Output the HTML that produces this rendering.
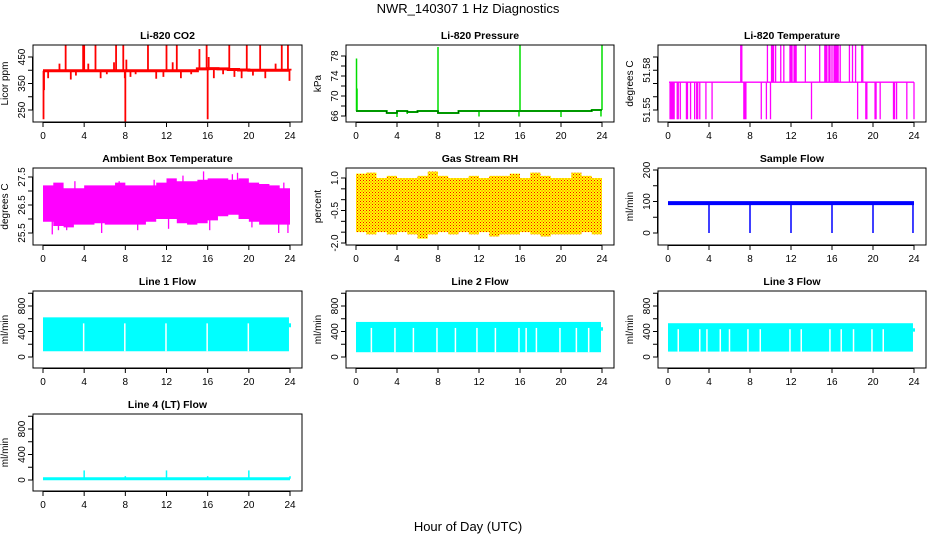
<!DOCTYPE html>
<html><head><meta charset="utf-8">
<style>
html,body{margin:0;padding:0;background:#fff;}
svg{display:block;font-family:"Liberation Sans",sans-serif;}
</style></head>
<body>
<svg id="fig" width="936" height="540" viewBox="0 0 936 540" xmlns="http://www.w3.org/2000/svg">
<defs>
<pattern id="rhpat" width="3" height="3" patternUnits="userSpaceOnUse">
<rect width="3" height="3" fill="#ffff00"/>
<rect x="0" y="0" width="1" height="1" fill="#ff0000"/>
<rect x="1.5" y="1.5" width="1" height="1" fill="#ff3000"/>
</pattern>
</defs>
<text x="468" y="13" text-anchor="middle" font-size="13">NWR_140307  1 Hz Diagnostics</text>
<text x="468" y="531" text-anchor="middle" font-size="13">Hour of Day (UTC)</text>
</svg>
<script>
// ---------------- data ----------------
const xTicks = [0,4,8,12,16,20,24];

const co2Base = [398,398,398,398,398,398,398,398,398,398,398,398,398,398,398,405,406,405,403,401,400,400,400,400,399];
const co2SpikeT = [0.05,0.1,0.5,1.6,2.2,2.7,3.2,3.9,4.0,4.4,5.1,5.6,6.2,6.9,7.1,7.8,7.95,8.0,8.1,8.5,9.0,10.2,11.0,11.7,12.0,12.6,13.0,13.4,14.4,15.2,15.9,16.0,16.1,16.6,17.5,18.1,18.6,19.3,19.8,20.4,21.1,21.6,22.6,23.2,23.8,23.95];
const co2SpikeV = [215,325,370,425,495,365,380,495,495,425,495,370,385,430,495,495,370,205,440,375,385,495,368,375,495,430,495,370,385,480,495,215,450,370,385,495,375,370,495,380,495,370,425,495,495,360];

const presBase = [67,67,67,66.6,67,66.8,67,67,66.6,66.6,67,67,67,67,67,67,67,67,67,67,67,67,67,67.2,67.2];
const presSpikeT = [0.05,0.1,4.0,5.0,8.0,12.0,16.0,15.9,20.0,23.9,24.0];
const presSpikeV = [77.5,71.5,65.8,66.4,79.8,65.9,80.2,65.9,65.8,65.9,80.2];

const tempBase = 51.571;
const tempUpT = [7.1,7.2,9.7,10.1,10.2,10.3,10.5,11.0,11.3,11.9,12.0,12.1,12.3,12.4,12.5,13.4,14.8,15.3,15.4,15.5,15.7,15.8,16.0,16.2,16.3,16.4,16.5,16.6,16.8,17.7,18.0,18.3,18.9,19.0];
const tempDownT = [0.2,0.3,0.4,0.5,0.6,0.9,1.0,1.2,1.8,1.9,2.2,2.6,2.8,2.9,3.1,3.7,4.3,7.4,7.5,7.6,9.1,9.6,10.0,14.0,18.5,19.3,19.4,20.2,20.3,20.7,22.0,22.1,22.3,23.3,24.0];
const tempHigh = 51.599, tempLow = 51.543;

const ambHi = [27.2,27.3,27.1,27.1,27.2,27.2,27.2,27.3,27.2,27.2,27.2,27.3,27.45,27.35,27.35,27.4,27.45,27.45,27.4,27.45,27.3,27.25,27.2,27.1,27.0];
const ambLo = [25.9,25.75,25.7,25.8,25.8,25.85,25.8,25.8,25.8,25.8,25.9,26.0,26.0,25.85,25.8,25.85,25.95,26.1,26.15,26.0,25.9,25.8,25.8,25.8,25.75];
const ambSpikeT = [0.9,1.5,2.3,3.1,5.7,7.4,9.2,10.8,12.2,13.6,15.6,16.2,18.4,18.9,20.3,22.9,23.4,23.8];
const ambSpikeV = [25.45,25.6,25.6,27.35,25.5,27.35,25.6,27.4,25.65,27.55,27.7,25.6,27.6,27.65,25.7,25.5,27.3,25.5];

const rhHi = [1.2,1.25,1.0,1.1,1.0,1.0,1.1,1.3,1.1,1.0,1.0,1.1,1.0,1.1,1.1,1.2,1.0,1.25,1.1,1.0,1.0,1.25,1.1,1.0,0.9];
const rhLo = [-1.5,-1.6,-1.5,-1.6,-1.5,-1.6,-1.8,-1.6,-1.5,-1.6,-1.5,-1.6,-1.5,-1.7,-1.6,-1.6,-1.5,-1.6,-1.7,-1.6,-1.6,-1.6,-1.5,-1.6,-1.2];

const flowBase = 95;
const flowDipT = [4.0,8.0,12.0,16.0,20.0,23.9];
const flowDipV = [0,0,0,0,0,0];

const l1Hi = 622, l1Lo = 90, l1Gaps = [3.95,7.95,11.95,15.95,19.95];
const l2Hi = 550, l2Lo = 75, l2Gaps = [1.5,3.8,5.6,7.9,9.7,11.8,13.6,15.9,16.6,17.6,19.9,21.5,22.7];
const l3Hi = 530, l3Lo = 85, l3Gaps = [1.0,3.1,3.8,5.1,6.0,7.8,9.0,11.9,13.0,15.8,16.9,18.1,19.9,21.0];
const l4Base = 20;
const l4SpikeT = [4.0,8.0,12.0,16.0,20.0,24.0];
const l4SpikeV = [150,60,150,60,150,60];

// ---------------- layout ----------------
const svg = document.getElementById('fig');
const NS = 'http://www.w3.org/2000/svg';
const colX0 = [43,356,668], colX24 = [290,602,914];
const rowTop = [45,168,291,414], boxH = 77;
function el(tag, attrs, parent){const e=document.createElementNS(NS,tag);for(const k in attrs)e.setAttribute(k,attrs[k]);(parent||svg).appendChild(e);return e;}

function panel(col,row,title,ylab,yv1,yp1,yv2,yp2,yticks,ylabels,name){
  const g = el('g',{});
  
  
  const top = rowTop[row], bot = top+boxH;
  const x0 = colX0[col], x24 = colX24[col];
  const left = x0-10, right = x24+12;
  const xs = t => x0 + (x24-x0)*t/24;
  const ys = v => yp1 + (v-yv1)*(yp2-yp1)/(yv2-yv1);
  const plot = el('g',{},g);
  
  
  const clip = el('clipPath',{id:'c'+name},g);
  el('rect',{x:left,y:top,width:right-left,height:boxH},clip);
  plot.setAttribute('clip-path','url(#c'+name+')');
  const frame = el('rect',{x:left,y:top,width:right-left,height:boxH,fill:'none',stroke:'#000','stroke-width':1},g);
  
  
  const t = el('text',{x:(left+right)/2,y:top-6,'text-anchor':'middle','font-size':10.5,'font-weight':'bold'},g);
  t.textContent = title;
  
  
  const yl = el('text',{x:0,y:0,'text-anchor':'middle','font-size':10,transform:`translate(${left-25},${(top+bot)/2}) rotate(-90)`},g);
  yl.textContent = ylab;
  
  
  const xa = el('g',{},g);
  
  
  el('line',{x1:xs(0),x2:xs(24),y1:bot+0.5,y2:bot+0.5,stroke:'#000'},xa);
  xTicks.forEach(v=>{
    el('line',{x1:xs(v),x2:xs(v),y1:bot,y2:bot+5,stroke:'#000'},xa);
    const tx = el('text',{x:xs(v),y:bot+17,'text-anchor':'middle','font-size':10},xa);
    tx.textContent = v;
    
    
  });
  const ya = el('g',{},g);
  
  
  el('line',{x1:left-0.5,x2:left-0.5,y1:ys(yticks[0]),y2:ys(yticks[yticks.length-1]),stroke:'#000'},ya);
  yticks.forEach(v=>{ el('line',{x1:left-5,x2:left,y1:ys(v),y2:ys(v),stroke:'#000'},ya); });
  ylabels.forEach(v=>{
    const tx = el('text',{x:0,y:0,'text-anchor':'middle','font-size':10,transform:`translate(${left-8},${ys(v)}) rotate(-90)`},ya);
    tx.textContent = (name==='ambient'||name==='rh')? v.toFixed(1) : v;
    
    
  });
  return {plot,xs,ys};
}
function vline(p,x,y1,y2,color,w,name){
  const l = el('line',{x1:x,x2:x,y1:y1,y2:y2,stroke:color,'stroke-width':w},p);
  
  
  return l;
}
function stepLine(p,xs,ys,arr,color,w,name){
  let d='';
  arr.forEach((v,i)=>{ d += (i? 'L':'M')+xs(i)+','+ys(v)+' L'+xs(Math.min(i+1,24))+','+ys(v)+' '; });
  const pa = el('path',{d:d,fill:'none',stroke:color,'stroke-width':w},p);
  
  
}
function band(p,xs,ys,hi,lo,fill,name){
  let d='M';
  hi.forEach((v,i)=>{ d += xs(i)+','+ys(v)+' L'+xs(Math.min(i+1,24))+','+ys(v)+' L'; });
  for(let i=lo.length-1;i>=0;i--){ d += xs(Math.min(i+1,24))+','+ys(lo[i])+' L'+xs(i)+','+ys(lo[i])+(i?' L':' Z'); }
  const pa = el('path',{d:d,fill:fill,stroke:'none'},p);
  
  
}

// CO2
(function(){
  const P = panel(0,0,'Li-820 CO2','Licor ppm',250,110,450,57,[250,300,350,400,450],[250,350,450],'co2');
  co2SpikeT.forEach((t,i)=>{ const h = Math.floor(t); vline(P.plot,P.xs(t),P.ys(co2Base[Math.min(h,24)]),P.ys(co2SpikeV[i]),'#ff0000',1.8,'co2-spike'); });
  stepLine(P.plot,P.xs,P.ys,co2Base,'#ff0000',3,'co2-series');
})();
// Pressure
(function(){
  const P = panel(1,0,'Li-820 Pressure','kPa',66,116,78,56,[66,68,70,72,74,76,78],[66,70,74,78],'pressure');
  presSpikeT.forEach((t,i)=>{ vline(P.plot,P.xs(t),P.ys(presBase[Math.min(Math.floor(t),24)]),P.ys(presSpikeV[i]),'#00dd00',1.5,'pressure-spike'); });
  stepLine(P.plot,P.xs,P.ys,presBase,'#00cc00',2,'pressure-series');
  stepLine(P.plot,P.xs,P.ys,presBase,'#000000',0.6,'pressure-points');
})();
// Li-820 Temperature
(function(){
  const P = panel(2,0,'Li-820 Temperature','degrees C',51.55,110,51.59,57,[51.55,51.56,51.57,51.58,51.59],[51.55,51.58],'li820-temp');
  tempUpT.forEach(t=>vline(P.plot,P.xs(t),P.ys(tempBase),P.ys(tempHigh),'#ff00ff',1.3,'temp-up-spike'));
  tempDownT.forEach(t=>vline(P.plot,P.xs(t),P.ys(tempBase),P.ys(tempLow),'#ff00ff',1.3,'temp-down-spike'));
  const b = el('line',{x1:P.xs(0.1),x2:P.xs(24),y1:P.ys(tempBase),y2:P.ys(tempBase),stroke:'#ff00ff','stroke-width':1.3},P.plot);
  
  
})();
// Ambient
(function(){
  const P = panel(0,1,'Ambient Box Temperature','degrees C',25.5,233,27.5,177,[25.5,26,26.5,27,27.5],[25.5,26.5,27.5],'ambient');
  band(P.plot,P.xs,P.ys,ambHi,ambLo,'#ff00ff','ambient-band');
  ambSpikeT.forEach((t,i)=>vline(P.plot,P.xs(t),P.ys(26.6),P.ys(ambSpikeV[i]),'#ff00ff',1.3,'ambient-spike'));
})();
// RH
(function(){
  const P = panel(1,1,'Gas Stream RH','percent',1.0,178,-2.0,243,[-2,-1.5,-1,-0.5,0,0.5,1],[-2.0,-0.5,1.0],'rh');
  band(P.plot,P.xs,P.ys,rhHi,rhLo,'url(#rhpat)','rh-band');
})();
// Sample flow
(function(){
  const P = panel(2,1,'Sample Flow','ml/min',0,233,200,170,[0,50,100,150,200],[0,100,200],'sample-flow');
  flowDipT.forEach((t,i)=>vline(P.plot,P.xs(t),P.ys(flowBase),P.ys(flowDipV[i]),'#0000ff',1.5,'flow-dip'));
  const b = el('line',{x1:P.xs(0),x2:P.xs(24),y1:P.ys(flowBase),y2:P.ys(flowBase),stroke:'#0000ff','stroke-width':4},P.plot);
  
  
})();
// Line flows
function lineFlow(col,row,title,name,hi,lo,gaps){
  const off = 123*(row-2);
  const P = panel(col,row,title,'ml/min',0,357+off,800,306+off,[0,200,400,600,800,1000],[0,400,800],name);
  const r = el('rect',{x:P.xs(0),y:P.ys(hi),width:P.xs(23.9)-P.xs(0),height:P.ys(lo)-P.ys(hi),fill:'#00ffff'},P.plot);
  
  
  gaps.forEach(t=>vline(P.plot,P.xs(t),P.ys(hi)+6,P.ys(lo),'#ffffff',1.5,name+'-gap'));
  vline(P.plot,P.xs(24),P.ys(hi*0.85),P.ys(hi*0.75),'#00ffff',2,name+'-end');
}
lineFlow(0,2,'Line 1 Flow','line1-flow',l1Hi,l1Lo,l1Gaps);
lineFlow(1,2,'Line 2 Flow','line2-flow',l2Hi,l2Lo,l2Gaps);
lineFlow(2,2,'Line 3 Flow','line3-flow',l3Hi,l3Lo,l3Gaps);
// Line 4
(function(){
  const P = panel(0,3,'Line 4 (LT) Flow','ml/min',0,480,800,429,[0,200,400,600,800,1000],[0,400,800],'line4-flow');
  l4SpikeT.forEach((t,i)=>vline(P.plot,P.xs(t),P.ys(l4Base),P.ys(l4SpikeV[i]),'#00ffff',1.5,'line4-spike'));
  const b = el('line',{x1:P.xs(0),x2:P.xs(24),y1:P.ys(l4Base),y2:P.ys(l4Base),stroke:'#00ffff','stroke-width':3},P.plot);
  
  
})();
</script>
</body></html>
